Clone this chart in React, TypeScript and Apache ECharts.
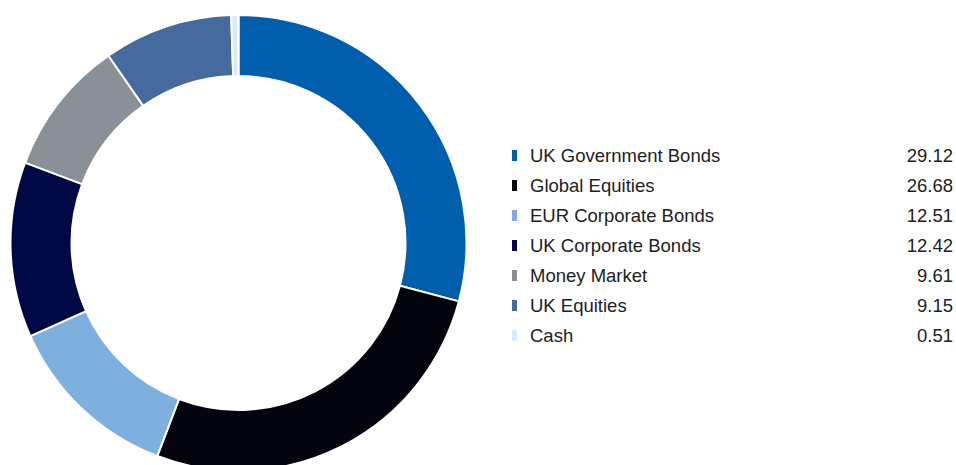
import React, { useEffect, useRef } from "react";
import * as echarts from "echarts";

const categories = [
  "UK Government Bonds",
  "Global Equities",
  "EUR Corporate Bonds",
  "UK Corporate Bonds",
  "Money Market",
  "UK Equities",
  "Cash",
];
const values = [29.12, 26.68, 12.51, 12.42, 9.61, 9.15, 0.51];
const colors = ["#005EAD", "#03040E", "#7DAFDF", "#000845", "#8A9098", "#46699E", "#DCEAF7"];

const FONT = "Liberation Sans, Arial, sans-serif";

export default function App() {
  const ref = useRef<HTMLDivElement>(null);
  useEffect(() => {
    if (!ref.current) return;
    const chart = echarts.init(ref.current, null, { renderer: "svg" });
    const valueMap: Record<string, number> = {};
    categories.forEach((c, i) => (valueMap[c] = values[i]));
    chart.setOption({
      animation: false,
      color: colors,
      legend: {
        orient: "vertical",
        left: 512,
        top: 146,
        padding: 0,
        icon: "rect",
        itemWidth: 5,
        itemHeight: 11,
        itemGap: 11,
        selectedMode: false,
        itemStyle: { borderWidth: 0 },
        data: categories,
        formatter: (name: string) => `{s|}{a|${name}}{b|${valueMap[name].toFixed(2)}}`,
        textStyle: {
          fontFamily: FONT,
          fontSize: 18.5,
          color: "#222",
          rich: {
            s: { width: 8, lineHeight: 20 },
            a: { width: 363, fontSize: 18.5, lineHeight: 20, color: "#222", fontFamily: FONT },
            b: { width: 60, align: "right", fontSize: 18.5, lineHeight: 20, color: "#222", fontFamily: FONT },
          },
        },
      },
      series: [
        {
          type: "pie",
          center: [238.5, 243],
          radius: [167, 228],
          startAngle: 90,
          clockwise: true,
          avoidLabelOverlap: false,
          label: { show: false },
          labelLine: { show: false },
          emphasis: { disabled: true },
          itemStyle: { borderColor: "#ffffff", borderWidth: 2 },
          data: categories.map((c, i) => ({ name: c, value: values[i] })),
        },
      ],
    });
    return () => chart.dispose();
  }, []);
  return (
    <div
      ref={ref}
      style={{ position: "absolute", left: 0, top: 0, width: 956, height: 465, background: "#fff" }}
    />
  );
}
